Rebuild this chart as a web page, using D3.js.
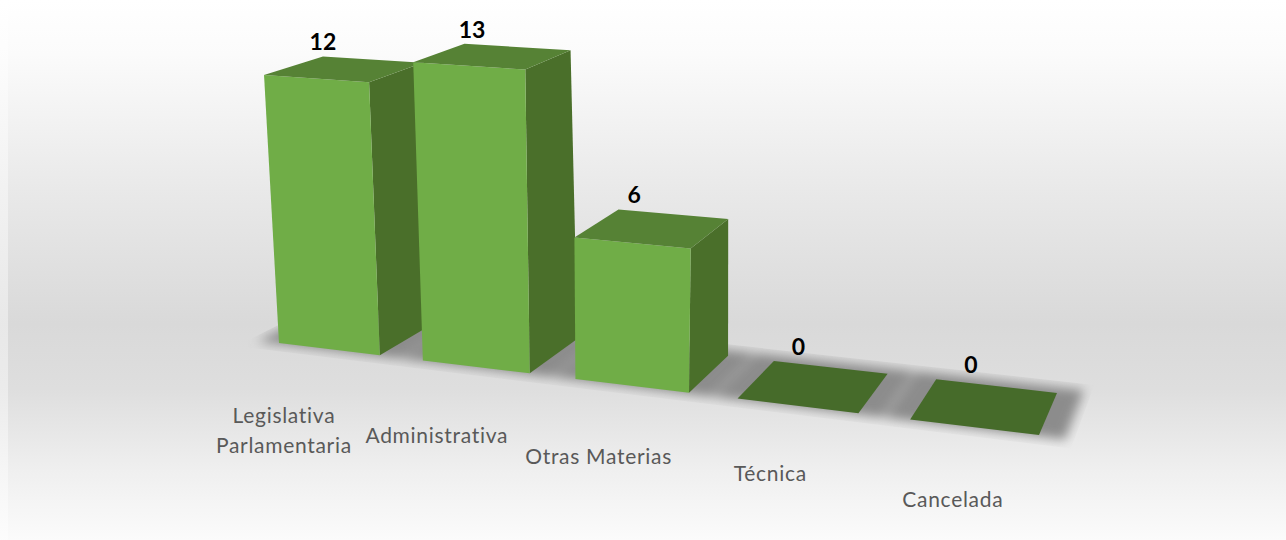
<!DOCTYPE html>
<html><head><meta charset="utf-8">
<script src="https://cdn.jsdelivr.net/npm/d3@7/dist/d3.min.js"></script>
<style>html,body{margin:0;padding:0;background:#fff}svg{display:block}</style>
</head><body><svg id="c" width="1286" height="540"></svg>
<script>
const categories = ["Legislativa Parlamentaria","Administrativa","Otras Materias","Técnica","Cancelada"];
const values = [12,13,6,0,0];

// Layout of the 3D scene, separate from the data
const W=1286,H=540;
const floor=[[279,343],[1039,435],[1057,393],[339.2,311.7]];
const labelNudge=[-2,0,2,-1,4];
const colors={front:"#70ad47",top:"#568235",side:"#4a6f2a",flat:"#466b2a",text:"#595959"};

function homography([p0,p1,p2,p3]){
  const dx1=p1[0]-p2[0],dx2=p3[0]-p2[0],sx=p0[0]-p1[0]+p2[0]-p3[0];
  const dy1=p1[1]-p2[1],dy2=p3[1]-p2[1],sy=p0[1]-p1[1]+p2[1]-p3[1];
  const den=dx1*dy2-dx2*dy1;
  const g=(sx*dy2-dx2*sy)/den,h=(dx1*sy-sx*dy1)/den;
  const a=p1[0]-p0[0]+g*p1[0],b=p3[0]-p0[0]+h*p3[0],c=p0[0];
  const d=p1[1]-p0[1]+g*p1[1],e=p3[1]-p0[1]+h*p3[1],f=p0[1];
  return (u,v)=>{const w=g*u+h*v+1;return [(a*u+b*v+c)/w,(d*u+e*v+f)/w];};
}
const ground=homography(floor);
const uScale=d3.scaleBand().domain(categories).range([0,1]).paddingInner(0.293);
const hScale=d3.scaleLinear().domain([0,13]).range([0,13*0.034]);
const vanish=[620,6450],horizon=-314,depthLean=0.38;
function lift(p,val,v){
  const px=hScale(val)*(p[1]-horizon);
  const s=(vanish[0]-p[0])/(vanish[1]-p[1]);
  return [p[0]-s*px-depthLean*val*v,p[1]-px];
}
const line=d3.line();
const poly=pts=>line(pts)+"Z";

const svg=d3.select("#c");
const defs=svg.append("defs");
const grad=defs.append("linearGradient").attr("id","bg").attr("x1",0).attr("y1",0).attr("x2",0).attr("y2",1);
[[0,"#ffffff"],[0.1,"#fbfbfb"],[0.35,"#e9e9e9"],[0.6,"#d9d9d9"],[0.72,"#dedede"],[0.87,"#efefef"],[1,"#fbfbfb"]]
  .forEach(([o,c])=>grad.append("stop").attr("offset",o).attr("stop-color",c));
defs.append("filter").attr("id","blur").attr("filterUnits","userSpaceOnUse").attr("x",0).attr("y",0).attr("width",W).attr("height",H)
  .append("feGaussianBlur").attr("stdDeviation",5.5);
defs.append("clipPath").attr("id","floorClip").append("path").attr("d",poly([ground(-0.045,-0.2),ground(1.04,-0.2),ground(1.04,1.3),ground(-0.045,1.3)]));

svg.append("rect").attr("width",W).attr("height",H).attr("fill","#fff");
svg.append("rect").attr("width",8).attr("height",H).attr("fill","url(#bg)").attr("opacity",0.6);
svg.append("rect").attr("x",8).attr("width",W-8).attr("height",H).attr("fill","url(#bg)");

const bars=categories.map((c,i)=>{
  const u0=uScale(c),u1=u0+uScale.bandwidth(),val=values[i];
  const b={fl:ground(u0,0),fr:ground(u1,0),br:ground(u1,1),bl:ground(u0,1)};
  const t={fl:lift(b.fl,val,0),fr:lift(b.fr,val,0),br:lift(b.br,val,1),bl:lift(b.bl,val,1)};
  return {c,i,val,u0,u1,b,t};
});

const shadowG=svg.append("g").attr("clip-path","url(#floorClip)");
shadowG.append("g").attr("filter","url(#blur)").selectAll("path").data(bars).join("path")
  .attr("fill","#8c8c8c")
  .attr("d",d=>poly([ground(d.u0-0.03,-0.03),ground(d.u1+0.03,-0.03),ground(d.u1+0.03,1.15),ground(d.u0-0.03,1.15)]));

const gBars=svg.append("g").selectAll("g").data(bars).join("g");
gBars.filter(d=>d.val>0).append("path").attr("fill",colors.side).attr("d",d=>poly([d.b.fr,d.b.br,d.t.br,d.t.fr]));
gBars.filter(d=>d.val>0).append("path").attr("fill",colors.front).attr("d",d=>poly([d.b.fl,d.b.fr,d.t.fr,d.t.fl]));
gBars.append("path").attr("fill",d=>d.val>0?colors.top:colors.flat).attr("d",d=>poly([d.t.fl,d.t.fr,d.t.br,d.t.bl]));

svg.append("g").selectAll("text").data(bars).join("text")
  .attr("x",d=>d.t.bl[0]+(d.t.br[0]-d.t.bl[0])*d.i*0.072)
  .attr("y",d=>d.t.bl[1]-6)
  .attr("text-anchor","middle").attr("font-family","Lato").attr("font-weight",700)
  .attr("font-size",23).attr("fill","#000").text(d=>d.val);

const offX=d3.scaleLinear().domain([0,4]).range([-45,-21]);
const labels=svg.append("g").selectAll("text").data(bars).join("text")
  .attr("text-anchor","middle").attr("font-family","Lato").attr("font-size",21).attr("letter-spacing",0.7).attr("fill",colors.text)
  .attr("transform",d=>{
    const m=ground((d.u0+d.u1)/2,0);
    return `translate(${m[0]+offX(d.i)},${m[1]+76+labelNudge[d.i]})`;
  });
labels.each(function(d){
  const lines=d.c.length>20?d.c.split(" "):[d.c];
  d3.select(this).selectAll("tspan").data(lines).join("tspan").attr("x",0).attr("dy",(l,k)=>k?30:0).text(l=>l);
});
</script></body></html>
